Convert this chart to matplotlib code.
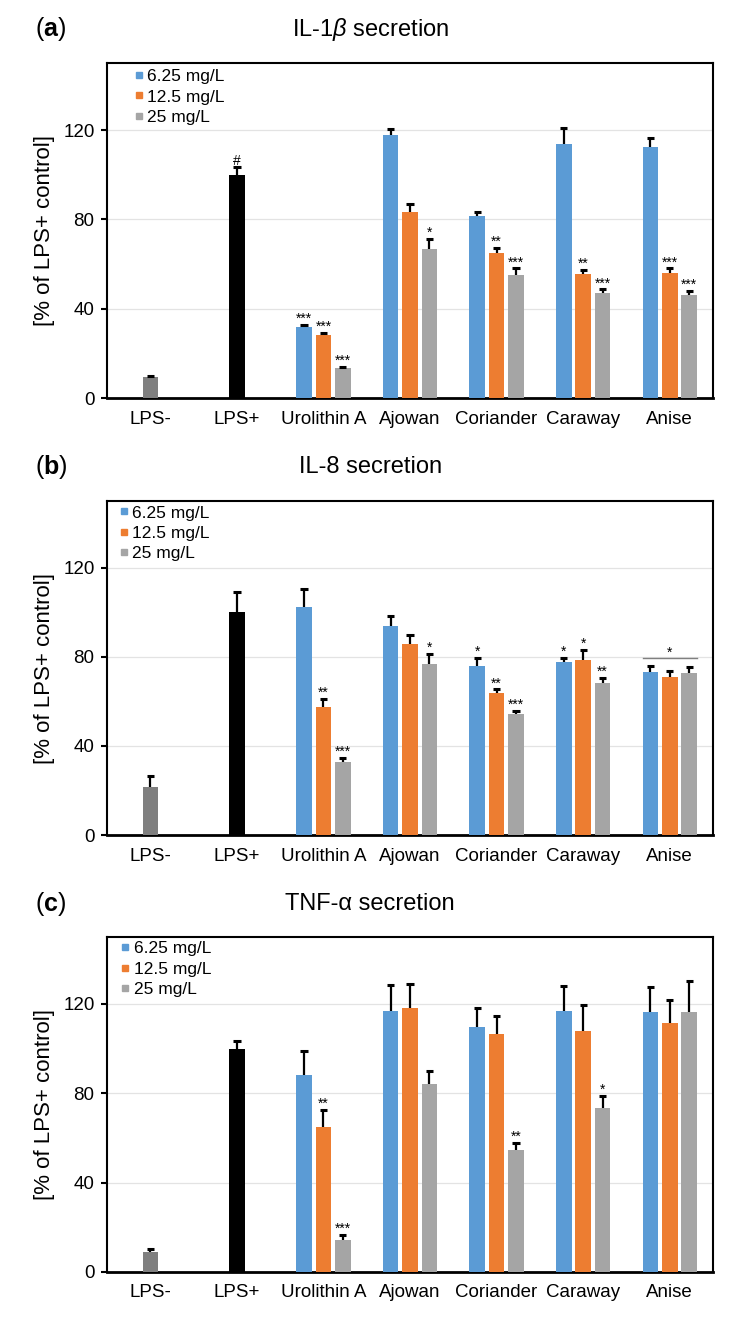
import matplotlib.pyplot as plt
import numpy as np
from matplotlib.lines import Line2D

plt.rcParams['font.family'] = ['Liberation Sans', 'DejaVu Sans']
plt.rcParams['mathtext.fontset'] = 'custom'
plt.rcParams['mathtext.rm'] = 'Liberation Sans'
plt.rcParams['mathtext.it'] = 'Liberation Sans:italic'
plt.rcParams['mathtext.bf'] = 'Liberation Sans:bold'

categories = ['LPS-', 'LPS+', 'Urolithin A', 'Ajowan', 'Coriander', 'Caraway', 'Anise']
doses = ['6.25 mg/L', '12.5 mg/L', '25 mg/L']
dose_colors = ['#5B9BD5', '#ED7D31', '#A5A5A5']
ctrl_colors = ['#7F7F7F', '#000000']

## IL-1beta
il1b_ctrl = [9.3, 100.0]
il1b_ctrl_err = [0.5, 3.5]
il1b_ctrl_sig = ['', '#']
il1b_low = [31.7, 117.7, 81.4, 113.6, 112.5]
il1b_low_err = [1.2, 2.9, 2.1, 7.3, 4.1]
il1b_low_sig = ['***', '', '', '', '']
il1b_mid = [28.4, 83.5, 65.1, 55.6, 55.9]
il1b_mid_err = [0.9, 3.2, 2.1, 1.8, 2.1]
il1b_mid_sig = ['***', '', '**', '**', '***']
il1b_high = [13.4, 66.5, 55.3, 47.2, 46.3]
il1b_high_err = [0.5, 4.8, 2.7, 1.4, 1.5]
il1b_high_sig = ['***', '*', '***', '***', '***']

## IL-8
il8_ctrl = [21.6, 100.0]
il8_ctrl_err = [5.0, 9.0]
il8_ctrl_sig = ['', '']
il8_low = [102.4, 93.9, 76.0, 77.6, 73.3]
il8_low_err = [8.3, 4.5, 3.7, 2.1, 2.4]
il8_low_sig = ['', '', '*', '*', '']
il8_mid = [57.5, 86.0, 64.0, 78.4, 70.9]
il8_mid_err = [3.7, 3.9, 1.4, 4.6, 2.8]
il8_mid_sig = ['**', '', '**', '*', '']
il8_high = [33.0, 76.7, 54.2, 68.4, 72.7]
il8_high_err = [1.6, 4.6, 1.5, 2.0, 2.7]
il8_high_sig = ['***', '*', '***', '**', '']

## TNF-alpha
tnf_ctrl = [8.8, 100.0]
tnf_ctrl_err = [1.6, 3.5]
tnf_ctrl_sig = ['', '']
tnf_low = [88.1, 117.0, 109.9, 116.7, 116.3]
tnf_low_err = [11.0, 11.6, 8.4, 11.3, 11.3]
tnf_low_sig = ['', '', '', '', '']
tnf_mid = [64.9, 118.1, 106.7, 107.8, 111.3]
tnf_mid_err = [7.6, 10.9, 8.1, 11.6, 10.4]
tnf_mid_sig = ['**', '', '', '', '']
tnf_high = [14.5, 84.2, 54.6, 73.3, 116.3]
tnf_high_err = [1.9, 6.0, 3.1, 5.7, 14.2]
tnf_high_sig = ['***', '', '**', '*', '']

panels = [
    ('a', r'IL-1$\beta$ secretion', il1b_ctrl, il1b_ctrl_err, il1b_ctrl_sig,
     [il1b_low, il1b_mid, il1b_high], [il1b_low_err, il1b_mid_err, il1b_high_err],
     [il1b_low_sig, il1b_mid_sig, il1b_high_sig]),
    ('b', 'IL-8 secretion', il8_ctrl, il8_ctrl_err, il8_ctrl_sig,
     [il8_low, il8_mid, il8_high], [il8_low_err, il8_mid_err, il8_high_err],
     [il8_low_sig, il8_mid_sig, il8_high_sig]),
    ('c', u'TNF-\u03b1 secretion', tnf_ctrl, tnf_ctrl_err, tnf_ctrl_sig,
     [tnf_low, tnf_mid, tnf_high], [tnf_low_err, tnf_mid_err, tnf_high_err],
     [tnf_low_sig, tnf_mid_sig, tnf_high_sig]),
]

# axes boxes (left, bottom, width, height) and title heights in figure fraction
boxes = [[0.1454, 0.6987, 0.8234, 0.2536],
         [0.1454, 0.3679, 0.8234, 0.2528],
         [0.1454, 0.0371, 0.8234, 0.2536]]
title_y = [0.978, 0.6465, 0.3157]
legend_anchor = [(0.046, 0.982), (0.022, 0.987), (0.024, 0.987)]

width = 0.18
step = 0.224
cap = 0.042

fig = plt.figure(figsize=(7.36, 13.21), dpi=100)

def err_up(ax, x, v, e):
    # one-sided (upper) error bar with cap
    ax.vlines(x, v, v + e, color='black', lw=1.6, zorder=4)
    ax.hlines(v + e, x - cap, x + cap, color='black', lw=2.2, zorder=4)

def mark(ax, x, top, label):
    if label:
        ax.annotate(label, (x, top), xytext=(0, 1.5), textcoords='offset points',
                    ha='center', va='baseline', fontsize=10)

for i, (tag, title, ctrl, ctrl_err, ctrl_sig, vals, errs, sigs) in enumerate(panels):
    ax = fig.add_axes(boxes[i])
    x = np.arange(len(categories))

    # controls
    for j in range(2):
        ax.bar(x[j], ctrl[j], width, color=ctrl_colors[j], zorder=3)
        err_up(ax, x[j], ctrl[j], ctrl_err[j])
        mark(ax, x[j], ctrl[j] + ctrl_err[j], ctrl_sig[j])

    # treatments
    xt = x[2:]
    for d in range(3):
        xd = xt + (d - 1) * step
        ax.bar(xd, vals[d], width, color=dose_colors[d], zorder=3)
        for k in range(len(xd)):
            err_up(ax, xd[k], vals[d][k], errs[d][k])
            mark(ax, xd[k], vals[d][k] + errs[d][k], sigs[d][k])

    # bracket over Anise in IL-8 panel
    if tag == 'b':
        tops = [vals[d][-1] + errs[d][-1] for d in range(3)]
        ybr = max(tops) + 3.6
        ax.plot([xt[-1] - step - width / 2, xt[-1] + step + width / 2], [ybr, ybr],
                color='#7F7F7F', lw=1.0, zorder=4)
        mark(ax, xt[-1], ybr, '*')

    ax.set_xlim(-0.5, len(categories) - 0.5)
    ax.set_ylim(0, 150)
    ax.set_yticks([0, 40, 80, 120])
    ax.set_xticks(x)
    ax.set_xticklabels(categories, fontsize=13.5)
    ax.tick_params(axis='x', length=0, pad=9)
    ax.tick_params(axis='y', length=4, width=1.5, pad=5, labelsize=13.5)
    ax.yaxis.grid(True, color='#E3E3E3', lw=0.9)
    ax.set_axisbelow(True)
    for s in ax.spines.values():
        s.set_linewidth(1.5)
    ax.spines['bottom'].set_linewidth(2)
    ax.set_ylabel('[% of LPS+ control]', fontsize=16)
    ax.yaxis.set_label_coords(-0.086, 0.5)

    handles = [Line2D([], [], marker='s', ls='none', color=c, markersize=5)
               for c in dose_colors]
    ax.legend(handles, doses, loc='upper left', bbox_to_anchor=legend_anchor[i],
              frameon=False, fontsize=12.5, handlelength=0.45, handletextpad=0.25,
              labelspacing=0.3, borderaxespad=0, borderpad=0)

    fig.text(0.503, title_y[i], title, fontsize=17, ha='center', va='center')
    fig.text(0.048, title_y[i], r'($\mathbf{%s}$)' % tag, fontsize=18,
             ha='left', va='center')

fig.savefig('out.png', dpi=100)
